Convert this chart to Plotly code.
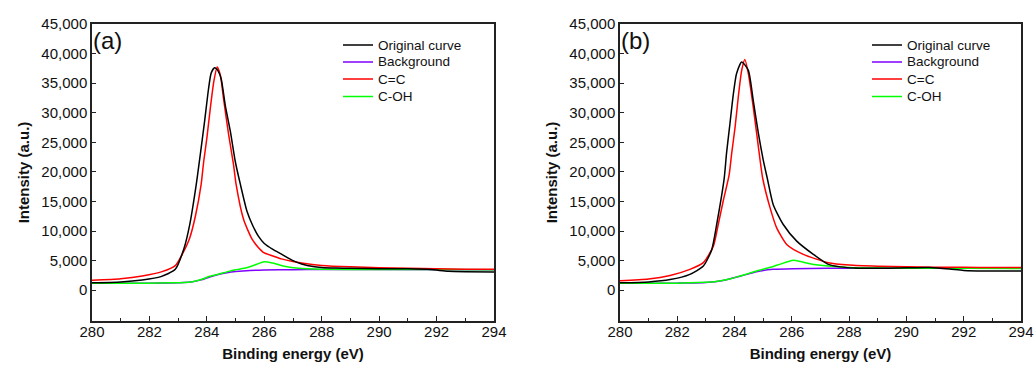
import plotly.graph_objects as go

# ---------------- Panel (a) data ----------------
orig_a_x = [280.0, 281.0, 281.75, 282.4, 282.9, 283.2, 283.4, 283.63, 283.77, 283.92, 284.06, 284.15,
            284.27, 284.4, 284.5, 284.64, 284.82, 284.99, 285.17, 285.4, 285.6, 285.8, 286.0, 286.3,
            286.6, 287.0, 287.3, 287.7, 288.0, 288.5, 289.0, 290.0, 291.0, 291.8, 292.4, 293.0, 294.0]
orig_a_y = [1250, 1400, 1740, 2300, 3530, 7000, 11000, 17840, 22890, 28500, 34100, 36700,
            37600, 37000, 35700, 31300, 26810, 21760, 17840, 13300, 10900, 9100, 7900, 6900,
            6100, 5000, 4450, 4000, 3850, 3750, 3700, 3650, 3620, 3500, 3200, 3120, 3080]

bg_a_x = [280.0, 282.0, 283.2, 283.5, 283.8, 284.1, 284.4, 284.7, 285.0, 285.5, 286.0, 287.0, 288.0, 290.0, 294.0]
bg_a_y = [1180, 1200, 1300, 1450, 1750, 2250, 2650, 2950, 3150, 3350, 3420, 3480, 3500, 3500, 3480]

cc_a_x = [280.0, 281.0, 281.75, 282.44, 282.91, 283.14, 283.4, 283.6, 283.8, 283.89, 284.0, 284.12,
          284.24, 284.36, 284.47, 284.58, 284.76, 284.93, 285.02, 285.28, 285.58, 285.8, 286.0, 286.3,
          286.6, 287.0, 287.3, 288.0, 289.0, 290.0, 291.0, 292.0, 293.0, 294.0]
cc_a_y = [1680, 1950, 2410, 3140, 4210, 6060, 8800, 12500, 17840, 21760, 25700, 30750,
          35230, 37750, 36350, 32430, 26250, 21200, 17840, 11950, 8580, 7200, 6300, 5800,
          5300, 4850, 4600, 4200, 3950, 3800, 3700, 3620, 3560, 3530]

coh_a_x = [280.0, 281.0, 282.0, 282.7, 283.2, 283.5, 283.8, 284.1, 284.4, 284.7, 285.0, 285.3,
           285.6, 286.0, 286.3, 286.7, 287.2, 288.0, 290.0, 292.0, 294.0]
coh_a_y = [1180, 1190, 1200, 1250, 1320, 1450, 1800, 2350, 2700, 3100, 3450, 3700,
           4150, 4830, 4600, 4050, 3700, 3550, 3520, 3500, 3480]

# ---------------- Panel (b) data ----------------
orig_b_x = [280.0, 281.0, 281.75, 282.44, 282.91, 283.2, 283.4, 283.64, 283.72, 283.84, 283.96, 284.07,
            284.25, 284.48, 284.65, 284.83, 285.0, 285.14, 285.35, 285.7, 286.17, 286.75, 287.27, 287.7,
            288.2, 289.0, 290.0, 290.8, 291.5, 292.0, 293.0, 294.0]
orig_b_y = [1250, 1400, 1800, 2690, 4090, 6800, 11800, 19000, 23170, 28220, 33270, 36640,
            38590, 37190, 32150, 26540, 22050, 18970, 14470, 11110, 8300, 6060, 4375, 3950,
            3750, 3700, 3800, 3850, 3600, 3350, 3250, 3250]

bg_b_x = [280.0, 282.0, 283.0, 283.6, 284.19, 284.77, 285.35, 286.05, 287.27, 288.0, 290.0, 294.0]
bg_b_y = [1180, 1200, 1300, 1650, 2350, 3140, 3530, 3650, 3700, 3720, 3720, 3720]

cc_b_x = [280.0, 281.0, 281.75, 282.44, 282.91, 283.26, 283.43, 283.6, 283.81, 283.9, 284.02, 284.13,
          284.25, 284.36, 284.48, 284.65, 284.77, 284.89, 284.98, 285.24, 285.47, 285.82, 286.4, 287.27,
          288.0, 289.0, 290.0, 291.0, 292.0, 293.0, 294.0]
cc_b_y = [1600, 1900, 2500, 3530, 4660, 7460, 11110, 15000, 19500, 23170, 27650, 32700,
          37190, 39000, 36640, 31020, 26540, 22050, 18970, 13920, 10550, 7740, 6060, 4660,
          4250, 4050, 3950, 3900, 3870, 3850, 3850]

coh_b_x = [280.0, 281.0, 282.0, 282.44, 283.0, 283.3, 283.61, 283.9, 284.19, 284.5, 284.77, 285.12,
           285.5, 286.05, 286.3, 286.63, 287.27, 288.0, 289.0, 290.0, 292.0, 294.0]
coh_b_y = [1180, 1190, 1200, 1250, 1350, 1450, 1680, 2000, 2410, 2850, 3250, 3700,
           4250, 5050, 4850, 4490, 4090, 3850, 3750, 3720, 3700, 3680]

series_names = ["Original curve", "Background", "C=C", "C-OH"]
series_colors = ["#000000", "#8000ff", "#ff0000", "#00ff00"]
y_tick_vals = [0, 5000, 10000, 15000, 20000, 25000, 30000, 35000, 40000, 45000]
x_tick_vals = [280, 282, 284, 286, 288, 290, 292, 294]
panel_labels = ["(a)", "(b)"]

FONT = "Arial, Liberation Sans, sans-serif"
W, H = 1035, 365
ML, MR, MT, MB = 92, 14, 24, 44

fig = go.Figure()

panels = [
    ("x", "y", [(orig_a_x, orig_a_y), (bg_a_x, bg_a_y), (cc_a_x, cc_a_y), (coh_a_x, coh_a_y)]),
    ("x2", "y2", [(orig_b_x, orig_b_y), (bg_b_x, bg_b_y), (cc_b_x, cc_b_y), (coh_b_x, coh_b_y)]),
]

for xa, ya, data in panels:
    # draw order: background, C-OH, C=C, original on top
    for idx in [1, 3, 2, 0]:
        xs, ys = data[idx]
        fig.add_trace(go.Scatter(
            x=xs, y=ys, mode="lines", name=series_names[idx],
            line=dict(color=series_colors[idx], width=1.5, shape="spline", smoothing=0.6),
            xaxis=xa, yaxis=ya, showlegend=False,
        ))

ax_common = dict(
    showline=True, mirror=True, linecolor="#222222", linewidth=1.5,
    showgrid=False, zeroline=False, ticks="inside", tickcolor="#222222",
    automargin=False,
    tickfont=dict(family=FONT, size=15, color="#111111"),
)

x_common = dict(ax_common, range=[280, 294], tickvals=x_tick_vals, ticklen=5, ticklabelstandoff=-4,
                minor=dict(dtick=1, ticks="inside", ticklen=3, tickcolor="#222222"),
                title=dict(text="<b>Binding energy (eV)</b>", font=dict(family=FONT, size=15, color="#111111"), standoff=10))
y_common = dict(ax_common, range=[-5200, 45000], tickvals=y_tick_vals, tickformat=",d", ticklen=4,
                title=dict(text="<b>Intensity (a.u.)</b>", font=dict(family=FONT, size=15, color="#111111"), standoff=8))

fig.update_layout(
    width=W, height=H,
    margin=dict(l=ML, r=MR, t=MT, b=MB, autoexpand=False),
    paper_bgcolor="white", plot_bgcolor="white",
    xaxis=dict(x_common, domain=[0, (494 - ML) / (W - ML - MR)], anchor="y"),
    yaxis=dict(y_common, domain=[0, 1], anchor="x"),
    xaxis2=dict(x_common, domain=[(620 - ML) / (W - ML - MR), 1], anchor="y2"),
    yaxis2=dict(y_common, domain=[0, 1], anchor="x2"),
    showlegend=False,
)

# legend drawn per panel: short line sample + label (paper pixel positions)
legend_line_x = [(343, 373), (872, 902)]
legend_text_x = [376, 905]
legend_rows_y = [45, 62, 79, 96.5]
for p in range(2):
    for k in range(4):
        ypos = (H - legend_rows_y[k] - MB) / (H - MT - MB)
        fig.add_shape(type="line", xref="paper", yref="paper",
                      x0=(legend_line_x[p][0] - ML) / (W - ML - MR), x1=(legend_line_x[p][1] - ML) / (W - ML - MR),
                      y0=ypos, y1=ypos, line=dict(color=series_colors[k], width=1.5))
        fig.add_annotation(text=series_names[k], xref="paper", yref="paper",
                           x=(legend_text_x[p] - ML) / (W - ML - MR), y=ypos,
                           xanchor="left", yanchor="middle", showarrow=False,
                           font=dict(family=FONT, size=13.5, color="#111111"))

for i, lbl in enumerate(panel_labels):
    sx = "" if i == 0 else "2"
    fig.add_annotation(text=lbl, xref=f"x{sx} domain", yref=f"y{sx} domain", x=0.0, y=1.0,
                       xanchor="left", yanchor="top", showarrow=False, xshift=-1, yshift=-1,
                       font=dict(family=FONT, size=24, color="#111111"))

fig.write_html("out.html")
